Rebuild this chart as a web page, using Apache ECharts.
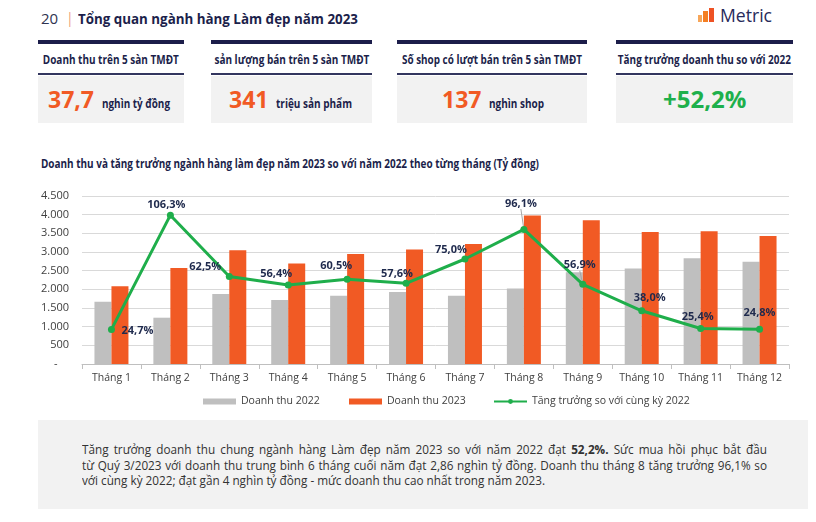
<!DOCTYPE html>
<html>
<head>
<meta charset="utf-8">
<script src="https://cdn.jsdelivr.net/npm/echarts@6/dist/echarts.min.js"></script>
<style>
  html, body { margin:0; padding:0; background:#fff; }
  body { width:816px; height:522px; position:relative; overflow:hidden; font-family:"Open Sans", "Noto Sans", sans-serif; }
  .abs { position:absolute; white-space:nowrap; }
  .fit { display:inline-block; white-space:nowrap; flex:none; }
  .cardbar { position:absolute; top:40px; height:4px; background:#1c1d4a; }
  .cardline { position:absolute; top:73px; height:1.5px; background:#33365f; }
  .cardbox { position:absolute; top:76px; height:47px; background:#f2f2f2; }
  .ctitle { position:absolute; top:52px; height:16px; line-height:16px; font-size:12px; font-weight:700; color:#1c1f4b; display:flex; justify-content:center; }
  .val { position:absolute; top:84px; height:30px; line-height:30px; display:flex; align-items:baseline; white-space:nowrap; }
  .num { font-size:23px; font-weight:700; color:#f15a24; }
  .unit { font-size:12px; font-weight:700; color:#1c1f4b; margin-left:8px; display:inline-block; }
  #note { position:absolute; left:38px; top:420px; width:770px; height:89px; background:#f2f2f2; }
  .nl { position:absolute; left:82px; font-size:13px; line-height:16px; color:#333; white-space:nowrap; transform-origin:left center; }
  #chart { position:absolute; left:0; top:150px; width:816px; height:270px; }
</style>
</head>
<body>
<!-- header -->
<div class="abs" style="left:41px;top:8px;font-size:15px;line-height:20px;color:#2f3350;">20</div>
<div class="abs" style="left:66px;top:8px;font-size:14px;line-height:20px;color:#eea37a;">|</div>
<div class="abs" style="left:78px;top:8px;font-size:15px;line-height:20px;font-weight:700;color:#1c1f4b;"><span class="fit" data-w="280" data-o="left">Tổng quan ngành hàng Làm đẹp năm 2023</span></div>
<div class="abs" style="left:698px;top:15px;width:4px;height:7px;background:#f7a659;"></div>
<div class="abs" style="left:703px;top:11px;width:5px;height:11px;background:#f47e22;"></div>
<div class="abs" style="left:709px;top:8px;width:5px;height:14px;background:#ee5224;"></div>
<div class="abs" style="left:720px;top:4px;font-size:18px;line-height:22px;color:#272a5a;"><span class="fit" data-w="52" data-o="left">Metric</span></div>

<!-- cards -->
<div class="cardbar" style="left:38px;width:146px;"></div>
<div class="cardbar" style="left:211px;width:161px;"></div>
<div class="cardbar" style="left:397px;width:190px;"></div>
<div class="cardbar" style="left:616px;width:177px;"></div>

<div class="ctitle" style="left:38px;width:146px;"><span class="fit" data-w="136">Doanh thu trên 5 sàn TMĐT</span></div>
<div class="ctitle" style="left:211px;width:161px;"><span class="fit" data-w="155">sản lượng bán trên 5 sàn TMĐT</span></div>
<div class="ctitle" style="left:397px;width:190px;"><span class="fit" data-w="180">Số shop có lượt bán trên 5 sàn TMĐT</span></div>
<div class="ctitle" style="left:616px;width:177px;"><span class="fit" data-w="173">Tăng trưởng doanh thu so với 2022</span></div>

<div class="cardline" style="left:38px;width:146px;"></div>
<div class="cardline" style="left:211px;width:161px;"></div>
<div class="cardline" style="left:397px;width:190px;"></div>
<div class="cardline" style="left:616px;width:177px;"></div>

<div class="cardbox" style="left:38px;width:146px;"></div>
<div class="cardbox" style="left:211px;width:161px;"></div>
<div class="cardbox" style="left:397px;width:190px;"></div>
<div class="cardbox" style="left:616px;width:177px;"></div>

<div class="val" style="left:48px;"><span class="num">37,7</span><span class="unit fit" data-w="68" data-o="left">nghìn tỷ đồng</span></div>
<div class="val" style="left:229px;"><span class="num">341</span><span class="unit fit" data-w="76" data-o="left">triệu sản phẩm</span></div>
<div class="val" style="left:442px;"><span class="num">137</span><span class="unit fit" data-w="55" data-o="left">nghìn shop</span></div>
<div class="val" style="left:663px;"><span class="num" style="color:#1eb04c;font-size:24px;">+52,2%</span></div>

<!-- chart title -->
<div class="abs" style="left:41px;top:156px;font-size:12px;line-height:16px;font-weight:700;color:#1c1f4b;"><span class="fit" data-w="498" data-o="left">Doanh thu và tăng trưởng ngành hàng làm đẹp năm 2023 so với năm 2022 theo từng tháng (Tỷ đồng)</span></div>

<div id="chart"></div>

<!-- note -->
<div id="note"></div>
<div class="nl" id="l1" style="top:441px;text-align:justify;text-align-last:justify;">Tăng trưởng doanh thu chung ngành hàng Làm đẹp năm 2023 so với năm 2022 đạt <b>52,2%.</b> Sức mua hồi phục bắt đầu</div>
<div class="nl" id="l2" style="top:457px;text-align:justify;text-align-last:justify;">từ Quý 3/2023 với doanh thu trung bình 6 tháng cuối năm đạt 2,86 nghìn tỷ đồng. Doanh thu tháng 8 tăng trưởng 96,1% so</div>
<div class="nl" id="l3" style="top:472px;">với cùng kỳ 2022; đạt gần 4 nghìn tỷ đồng - mức doanh thu cao nhất trong năm 2023.</div>

<script>
// ---- data ----
const months = ['Tháng 1','Tháng 2','Tháng 3','Tháng 4','Tháng 5','Tháng 6','Tháng 7','Tháng 8','Tháng 9','Tháng 10','Tháng 11','Tháng 12'];
const revenue2022 = [1670, 1240, 1875, 1715, 1830, 1930, 1830, 2025, 2455, 2555, 2830, 2740];
const revenue2023 = [2080, 2570, 3045, 2690, 2945, 3070, 3215, 3975, 3850, 3535, 3555, 3430];
const growthPct = [24.7, 106.3, 62.5, 56.4, 60.5, 57.6, 75.0, 96.1, 56.9, 38.0, 25.4, 24.8];
const seriesNames = ['Doanh thu 2022', 'Doanh thu 2023', 'Tăng trưởng so với cùng kỳ 2022'];

// label placement (style only)
const labelShift = [[26,1],[-4,-10],[-24,-10],[-12,-11],[-11,-13],[-9,-10],[-14,-9],[-3,-26],[-3,-19],[8,-13],[-3,-12],[0,-16]];
const guideIdx = [7, 8];
const legendLeft = [203, 349, 493];

// ---- text fitting ----
document.querySelectorAll('.fit').forEach(el => {
  const w = parseFloat(el.dataset.w);
  const nat = el.getBoundingClientRect().width;
  if (w && nat) {
    el.style.transformOrigin = (el.dataset.o || 'center') + ' center';
    el.style.transform = 'scaleX(' + (w / nat) + ')';
  }
});
(function(){
  const l1 = document.getElementById('l1'), l2 = document.getElementById('l2'), l3 = document.getElementById('l3');
  const s = 463 / l3.getBoundingClientRect().width;
  [l1, l2, l3].forEach(l => l.style.transform = 'scaleX(' + s + ')');
  l1.style.width = (685 / s) + 'px';
  l2.style.width = (685 / s) + 'px';
})();

// ---- chart ----
const chart = echarts.init(document.getElementById('chart'), null, { renderer: 'canvas' });
const fmt = v => v === 0 ? '-    ' : String(v).replace(/\B(?=(\d{3})+(?!\d))/g, '.');
const fam = '"Open Sans", sans-serif';

chart.setOption({
  animation: false,
  textStyle: { fontFamily: fam },
  grid: { left: 82, right: 27, top: 46, bottom: 56 },
  legend: seriesNames.map((n, i) => ({
    left: legendLeft[i], top: 246, padding: 0,
    itemWidth: 33, itemHeight: 6, itemGap: 0,
    textStyle: { color: '#404040', fontSize: 10.5, fontFamily: fam },
    data: [i < 2 ? { name: n, icon: 'rect' } : { name: n }]
  })),
  xAxis: {
    type: 'category',
    data: months,
    axisLine: { lineStyle: { color: '#bfbfbf', width: 1 } },
    axisTick: { show: true, length: 5, lineStyle: { color: '#bfbfbf' } },
    axisLabel: { color: '#404040', fontSize: 10.5, margin: 9, interval: 0, fontFamily: fam }
  },
  yAxis: [
    {
      type: 'value', min: 0, max: 4500, interval: 500,
      axisLine: { show: false }, axisTick: { show: false },
      splitLine: { lineStyle: { color: '#d9d9d9', width: 1 } },
      axisLabel: { color: '#404040', fontSize: 11, margin: 13, formatter: fmt, fontFamily: fam }
    },
    {
      type: 'value', min: 0, max: 120, show: false, splitLine: { show: false }
    }
  ],
  series: [
    {
      name: seriesNames[0], type: 'bar', data: revenue2022,
      barWidth: 17, barGap: '0%',
      itemStyle: { color: '#bfbfbf' }
    },
    {
      name: seriesNames[1], type: 'bar', data: revenue2023,
      barWidth: 17, barGap: '0%',
      itemStyle: { color: '#f15a24' }
    },
    {
      name: seriesNames[2], type: 'line', yAxisIndex: 1, z: 5,
      data: growthPct.map((v, i) => ({
        value: v,
        labelLine: { show: guideIdx.indexOf(i) >= 0 }
      })),
      symbol: 'circle', symbolSize: 7,
      lineStyle: { color: '#1fae4b', width: 3 },
      itemStyle: { color: '#1fae4b' },
      label: {
        show: true, position: 'inside',
        formatter: p => p.value.toFixed(1).replace('.', ',') + '%',
        color: '#1f2a4d', fontSize: 11, fontWeight: 'bold', fontFamily: fam
      },
      labelLine: { show: false, lineStyle: { color: '#a6a6a6', width: 1 } },
      labelLayout: p => ({ dx: labelShift[p.dataIndex][0], dy: labelShift[p.dataIndex][1] })
    }
  ]
});
</script>
</body>
</html>
